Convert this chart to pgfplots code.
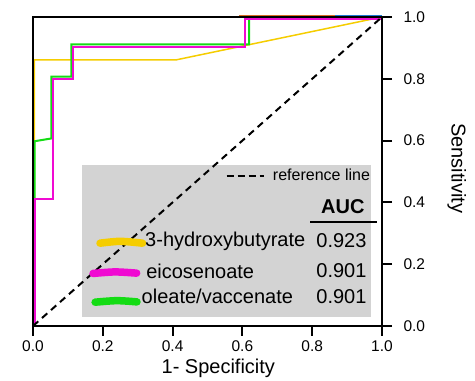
\documentclass[border=0pt]{standalone}
\usepackage{fontspec}
\setmainfont{Liberation Sans}
\usepackage{pgfplots}
\pgfplotsset{compat=1.18}
\definecolor{cyel}{RGB}{245,205,0}
\definecolor{cmag}{RGB}{240,10,210}
\definecolor{cgrn}{RGB}{20,220,20}
\definecolor{cbox}{RGB}{211,211,211}
\definecolor{corg}{RGB}{215,110,35}
\definecolor{cblu}{RGB}{30,120,210}
\begin{document}
\begin{tikzpicture}
\begin{axis}[
  width=349pt, height=309pt, scale only axis,
  xmin=0, xmax=1, ymin=0, ymax=1,
  clip=false, axis on top,
  axis line style={line width=2pt, black},
  xtick={0,0.2,0.4,0.6,0.8,1}, ytick={0,0.2,0.4,0.6,0.8,1},
  xtick pos=bottom, ytick pos=right, yticklabel pos=right,
  tick align=outside, major tick length=10pt,
  every tick/.style={black, line width=2pt},
  tick label style={font=\fontsize{15.5}{18}\selectfont},
  /pgf/number format/assume math mode=true,
  xticklabel style={/pgf/number format/fixed, /pgf/number format/fixed zerofill, /pgf/number format/precision=1, yshift=-1pt},
  yticklabel style={/pgf/number format/fixed, /pgf/number format/fixed zerofill, /pgf/number format/precision=1, xshift=8pt},
  xlabel={1- Specificity}, ylabel={Sensitivity},
  label style={font=\fontsize{20}{24}\selectfont},
  xlabel style={at={(axis cs:0.531,0)}, anchor=base, yshift=-47.3pt},
  ylabel style={at={(axis cs:1.1997,0.51)}, anchor=base, rotate=180},
]
% legend box
\fill[cbox] (axis cs:0.14,0.03) rectangle (axis cs:0.968,0.521);
% curves
\addplot[cyel, line width=1.5pt] coordinates {(0.004,0) (0.004,0.861) (0.409,0.861) (1,1)};
\addplot[cgrn, line width=2pt] coordinates {(0.005,0) (0.005,0.598) (0.053,0.607) (0.053,0.807) (0.11,0.807) (0.11,0.911) (0.619,0.911) (0.619,1) (1,1)};
\addplot[cmag, line width=2pt] coordinates {(0.005,0) (0.005,0.41) (0.056,0.41) (0.056,0.80) (0.115,0.80) (0.115,0.904) (0.607,0.904) (0.607,0.995) (1,0.995)};
\addplot[corg, line width=0.9pt] coordinates {(0.59,1.0055) (0.865,1.0055)};
\addplot[cblu, line width=0.9pt] coordinates {(0.865,1.0055) (1,1.0055)};
% reference line
\addplot[black, line width=2pt, dash pattern=on 7pt off 5pt] coordinates {(0,0) (1,1)};
% legend content
\draw[black, line width=2pt, dash pattern=on 7pt off 4pt] (axis cs:0.555,0.485) -- (axis cs:0.662,0.485);
\node[anchor=east, inner sep=0pt, font=\fontsize{16}{19}\selectfont] at (axis cs:0.966,0.489) {reference line};
\node[inner sep=0pt, font=\fontsize{20}{24}\selectfont\bfseries] at (axis cs:0.888,0.386) {AUC};
\draw[black, line width=2pt] (axis cs:0.794,0.3375) -- (axis cs:0.986,0.3375);
\draw[cyel, line width=7.5pt, line cap=round] plot[smooth] coordinates {(axis cs:0.192,0.268) (axis cs:0.25,0.274) (axis cs:0.314,0.268)};
\draw[cmag, line width=7.5pt, line cap=round] plot[smooth] coordinates {(axis cs:0.172,0.170) (axis cs:0.235,0.175) (axis cs:0.297,0.171)};
\draw[cgrn, line width=7.5pt, line cap=round] plot[smooth] coordinates {(axis cs:0.178,0.077) (axis cs:0.24,0.082) (axis cs:0.298,0.078)};
\node[anchor=west, inner sep=0pt, font=\fontsize{20}{24}\selectfont] at (axis cs:0.321,0.275) {3-hydroxybutyrate};
\node[anchor=west, inner sep=0pt, font=\fontsize{20}{24}\selectfont] at (axis cs:0.324,0.176) {eicosenoate};
\node[anchor=west, inner sep=0pt, font=\fontsize{20}{24}\selectfont] at (axis cs:0.311,0.095) {oleate/vaccenate};
\node[anchor=east, inner sep=0pt, font=\fontsize{20}{24}\selectfont] at (axis cs:0.956,0.275) {0.923};
\node[anchor=east, inner sep=0pt, font=\fontsize{20}{24}\selectfont] at (axis cs:0.956,0.178) {0.901};
\node[anchor=east, inner sep=0pt, font=\fontsize{20}{24}\selectfont] at (axis cs:0.956,0.095) {0.901};
\end{axis}
\path (-33pt,-52pt) rectangle (442pt,326pt);
\end{tikzpicture}
\end{document}
